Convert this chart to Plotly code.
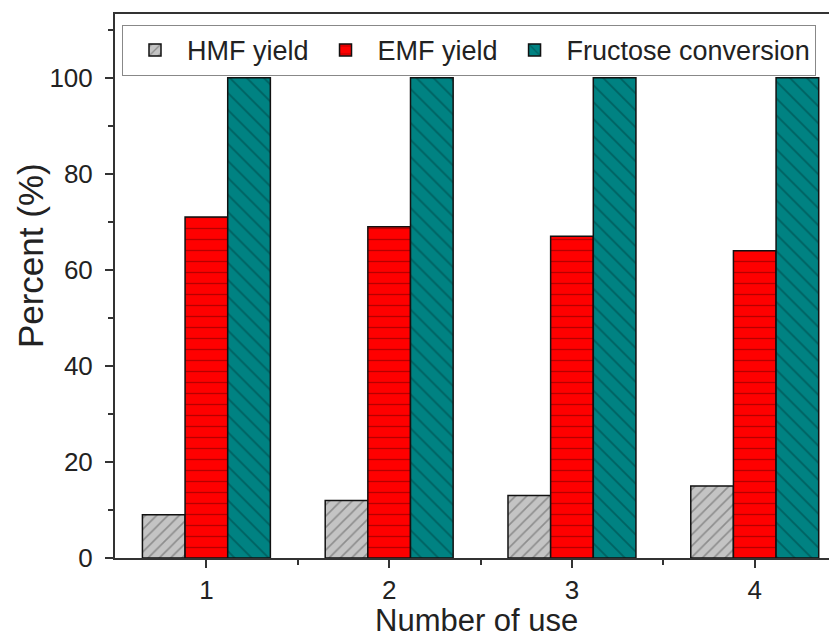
import plotly.graph_objects as go

uses = [1, 2, 3, 4]
hmf_yield = [9, 12, 13, 15]
emf_yield = [71, 69, 67, 64]
fructose_conversion = [100, 100, 100, 100]

fig = go.Figure()
fig.add_trace(go.Bar(
    x=uses, y=hmf_yield, name="HMF yield",
    marker=dict(color="#c4c4c4", line=dict(color="#111111", width=1.5),
                pattern=dict(shape="/", fgcolor="#555555", size=8, solidity=0.2)),
))
fig.add_trace(go.Bar(
    x=uses, y=emf_yield, name="EMF yield",
    marker=dict(color="#ff0000", line=dict(color="#111111", width=1.5),
                pattern=dict(shape="-", fgcolor="#700000", size=11, solidity=0.12)),
))
fig.add_trace(go.Bar(
    x=uses, y=fructose_conversion, name="Fructose conversion",
    marker=dict(color="#008282", line=dict(color="#111111", width=1.5),
                pattern=dict(shape="\\", fgcolor="#003f3f", size=12, solidity=0.15)),
))

FAM = "Liberation Sans, Arial, sans-serif"
axis_font = dict(family=FAM, size=26, color="#222222")
title_font = dict(family=FAM, size=31, color="#222222")

fig.update_layout(
    width=829, height=629,
    margin=dict(l=107, r=0, t=6, b=79),
    paper_bgcolor="white", plot_bgcolor="white",
    barmode="group", bargap=0.3, bargroupgap=0,
    font=axis_font,
    showlegend=True,
    legend=dict(
        orientation="h", x=0.0097, y=0.98, xanchor="left", yanchor="top",
        bordercolor="#888888", borderwidth=1, bgcolor="white",
        font=dict(family=FAM, size=27, color="#222222"),
        itemwidth=54, tracegroupgap=0,
    ),
    xaxis=dict(
        range=[0.5, 4.45], tickmode="array", tickvals=uses, ticktext=[str(u) for u in uses],
        showgrid=False, zeroline=False, showline=True, linecolor="#333333", linewidth=2,
        mirror=True, ticks="outside", ticklen=8, tickwidth=1.5, tickcolor="#333333",
        minor=dict(tickvals=[1.5, 2.5, 3.5], ticks="outside", ticklen=5, tickcolor="#333333", tickwidth=1.5),
        tickfont=axis_font, automargin=False,
    ),
    yaxis=dict(
        range=[0, 113.3], tickmode="linear", tick0=0, dtick=20,
        showgrid=False, zeroline=False, showline=True, linecolor="#333333", linewidth=2,
        ticks="outside", ticklen=8, tickwidth=1.5, tickcolor="#333333",
        minor=dict(dtick=10, ticks="outside", ticklen=5, tickcolor="#333333", tickwidth=1.5),
        tickfont=axis_font, automargin=False, ticklabelstandoff=7,
    ),
    annotations=[
        dict(text="Number of use", xref="paper", yref="paper", x=0.5, y=-0.079,
             xanchor="center", yanchor="top", showarrow=False, font=title_font),
        dict(text="Percent (%)", xref="paper", yref="paper", x=-0.1177, y=0.555,
             xanchor="center", yanchor="middle", textangle=-90, showarrow=False,
             font=dict(family=FAM, size=35, color="#222222")),
    ],
)

fig.write_html("out.html")
